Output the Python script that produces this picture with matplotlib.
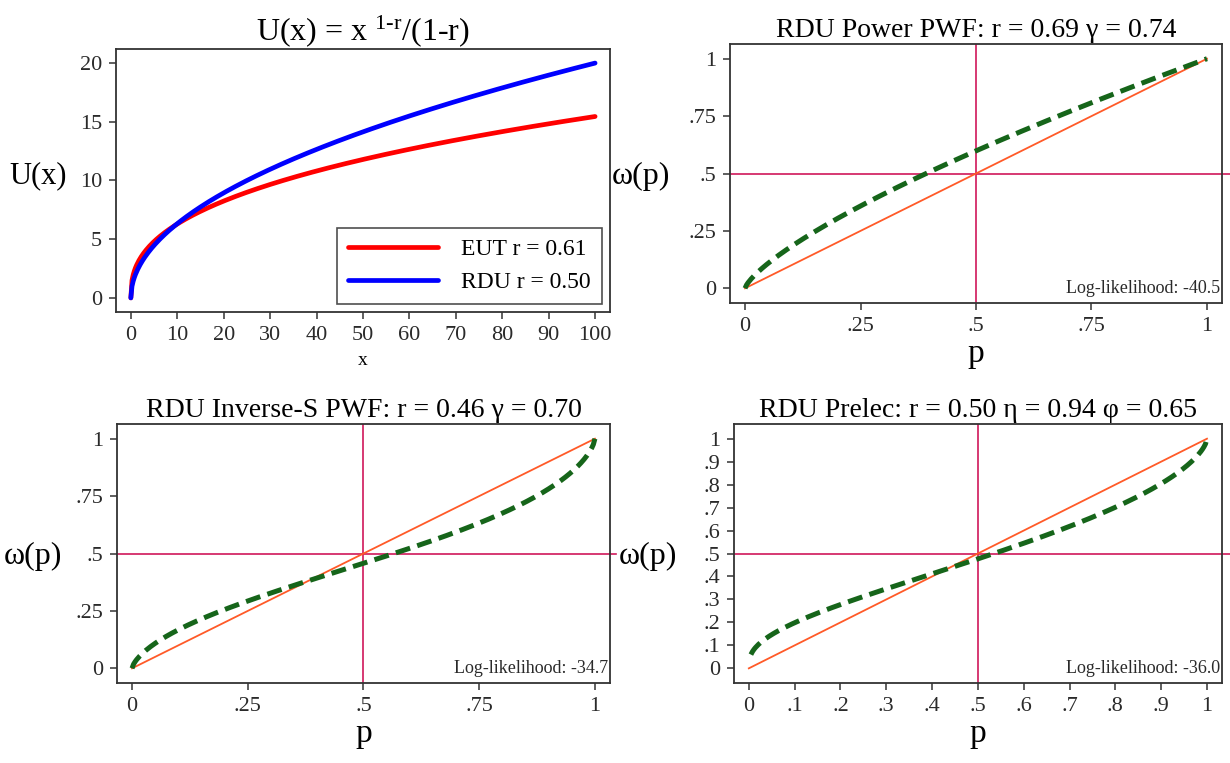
import matplotlib
matplotlib.use('Agg')
import matplotlib.pyplot as plt
import numpy as np

plt.rcParams['font.family'] = ['Liberation Serif', 'DejaVu Serif']
plt.rcParams['mathtext.fontset'] = 'custom'
plt.rcParams['mathtext.rm'] = 'Liberation Serif'
plt.rcParams['mathtext.it'] = 'Liberation Serif:italic'

# estimates shown in the panels
r_eut = 0.61
r_rdu = 0.50
gamma_power = 0.74
gamma_invs = 0.70
eta_prelec = 0.94
phi_prelec = 0.65
loglik = ['-40.5', '-34.7', '-36.0']

titles = ['RDU Power PWF: r = 0.69 \u03b3 = 0.74',
          'RDU Inverse-S PWF: r = 0.46 \u03b3 = 0.70',
          'RDU Prelec: r = 0.50 \u03b7 = 0.94 \u03c6 = 0.65']

xticks_u = list(range(0, 101, 10))
yticks_u = [0, 5, 10, 15, 20]
ticks_q = [0, 0.25, 0.5, 0.75, 1]
ticklabels_q = ['0', '.25', '.5', '.75', '1']
ticks_d = [i / 10 for i in range(11)]
ticklabels_d = ['0', '.1', '.2', '.3', '.4', '.5', '.6', '.7', '.8', '.9', '1']


def crra(x, r):
    return x ** (1 - r) / (1 - r)


def pwf_power(p, g):
    return p ** g


def pwf_invs(p, g):
    return p ** g / (p ** g + (1 - p) ** g) ** (1 / g)


def pwf_prelec(p, eta, phi):
    return np.exp(-eta * (-np.log(p)) ** phi)


x = np.linspace(0, 100, 400)
p = np.linspace(0, 1, 300)
p_pre = np.linspace(0.0045, 1, 300)

fig = plt.figure(figsize=(12.3, 7.63), dpi=100)

ax1 = fig.add_axes([0.0943, 0.5911, 0.4016, 0.3447])
ax2 = fig.add_axes([0.5935, 0.6029, 0.4000, 0.3394])
ax3 = fig.add_axes([0.0951, 0.1048, 0.4008, 0.3395])
ax4 = fig.add_axes([0.5967, 0.1048, 0.3967, 0.3395])

spine_col = '#333333'
for ax in [ax1, ax2, ax3, ax4]:
    for s in ax.spines.values():
        s.set_color(spine_col)
        s.set_linewidth(1.3)
    ax.tick_params(direction='out', length=5, width=1.1, color=spine_col,
                   labelsize=16, labelcolor='#2a2a2a', pad=5)

# Utility panel
ax1.plot(x, crra(x, r_eut), color='#ff0000', lw=3.4, label='EUT r = 0.61',
         solid_capstyle='round')
ax1.plot(x, crra(x, r_rdu), color='#0000ff', lw=3.4, label='RDU r = 0.50',
         solid_capstyle='round')
ax1.set_xlim(-3.2, 103.2)
ax1.set_ylim(-1.2, 21.2)
ax1.set_xticks(xticks_u)
ax1.set_yticks(yticks_u)
ax1.set_title('U(x) = x $^{\\mathrm{1\\text{-}r}}$/(1-r)', fontsize=23, pad=5)
ax1.set_xlabel('x', fontsize=14, labelpad=5)
ax1.set_ylabel('U(x)', fontsize=22, rotation=0, va='center')
ax1.yaxis.set_label_coords(-0.158, 0.52)
leg = ax1.legend(loc='lower right', fontsize=17, frameon=True, fancybox=False,
                 edgecolor='#222222', handlelength=3.8, borderpad=0.45,
                 labelspacing=0.5, handletextpad=1.0, borderaxespad=0.35)
leg.get_frame().set_linewidth(1.2)

# PWF panels
curves = [pwf_power(p, gamma_power), pwf_invs(p, gamma_invs),
          pwf_prelec(p_pre, eta_prelec, phi_prelec)]
grids = [p, p, p_pre]
axes = [ax2, ax3, ax4]
ext = [1.016, 1.012, 1.016]
ylab_x = [-0.181, -0.170, -0.176]

for i, ax in enumerate(axes):
    ax.plot([0, 1], [0, 1], color='#ff5a28', lw=1.3, zorder=2)
    ax.plot(grids[i], curves[i], color='#16651a', lw=3.6, ls=(0, (3.0, 1.5)),
            zorder=3)
    ax.axvline(0.5, color='#d0185a', lw=1.2, zorder=1)
    ax.axhline(0.5, xmin=0, xmax=ext[i], color='#d0185a', lw=1.2, zorder=1,
               clip_on=False)
    ax.set_xlim(-0.0325, 1.0325)
    ax.set_ylim(-0.064, 1.064)
    if i == 2:
        ax.set_xticks(ticks_d)
        ax.set_xticklabels(ticklabels_d)
        ax.set_yticks(ticks_d)
        ax.set_yticklabels(ticklabels_d)
    else:
        ax.set_xticks(ticks_q)
        ax.set_xticklabels(ticklabels_q)
        ax.set_yticks(ticks_q)
        ax.set_yticklabels(ticklabels_q)
    ax.set_title(titles[i], fontsize=20, pad=5)
    ax.set_xlabel('p', fontsize=24, labelpad=2)
    ax.set_ylabel('\u03c9(p)', fontsize=23, rotation=0, va='center')
    ax.yaxis.set_label_coords(ylab_x[i], 0.49)
    ax.text(0.996, 0.022, 'Log-likelihood: ' + loglik[i], transform=ax.transAxes,
            ha='right', va='bottom', fontsize=13, color='#2a2a2a')

fig.savefig('out.png', dpi=100, facecolor='white')
